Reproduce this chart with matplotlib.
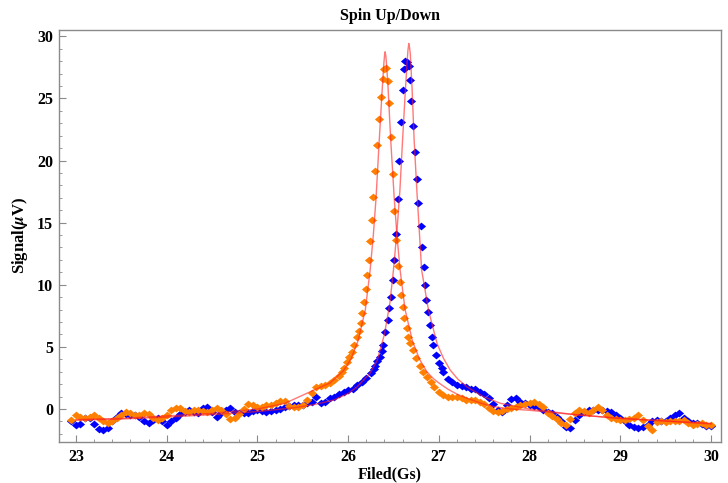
import numpy as np
import matplotlib
matplotlib.use("Agg")
import matplotlib.pyplot as plt
from matplotlib.ticker import MultipleLocator

plt.rcParams["font.family"] = ["Liberation Serif", "DejaVu Serif"]
plt.rcParams["font.weight"] = "bold"
plt.rcParams["mathtext.fontset"] = "stix"

BLUE = "#0000ff"
ORANGE = "#ff8000"
RED = "#ff2020"
FRAME = "#8a8a8a"

STEP = 0.05

# spin down (blue) -- baseline segments sampled every 0.05 Gs, peak read point by point
blue_left_start = 22.95
blue_left_y = [
    -1.0, -1.25, -1.2, -0.75, -0.75, -1.2, -1.6, -1.65, -1.5, -1.0,
    -0.6, -0.35, -0.4, -0.5, -0.5, -0.6, -0.95, -1.15, -0.9, -0.75,
    -0.95, -1.3, -1.0, -0.7, -0.4, -0.25, -0.08, -0.2, -0.35, 0.05,
    0.2, -0.2, -0.65, -0.3, -0.05, 0.05, -0.25, -0.35, -0.35, -0.3,
    -0.15, -0.08, -0.15, -0.22, -0.15, -0.08, 0.0, 0.15, 0.25, 0.3,
    0.3, 0.35, 0.45, 0.6, 0.95, 0.5, 0.6, 0.85, 1.0, 1.2,
    1.35, 1.5, 1.6, 1.9, 2.2, 2.5, 2.9,
]
blue_peak_x = [
    26.28, 26.30, 26.32, 26.35, 26.37, 26.39, 26.41, 26.44, 26.455, 26.47,
    26.49, 26.51, 26.53, 26.555, 26.566, 26.58, 26.60, 26.617, 26.632, 26.647,
    26.669, 26.684, 26.695, 26.72, 26.74, 26.757, 26.775, 26.80, 26.813, 26.836,
    26.845, 26.857, 26.886, 26.90, 26.923, 26.94, 26.97, 27.007, 27.03,
]
blue_peak_y = [
    3.2, 3.5, 3.9, 4.2, 4.7, 5.15, 6.2, 7.15, 8.1, 9.0,
    10.4, 12.0, 14.1, 16.9, 20.0, 23.1, 25.7, 27.35, 28.0, 27.95,
    27.6, 26.5, 24.8, 22.8, 20.65, 18.55, 16.55, 14.7, 13.0, 11.4,
    10.0, 8.8, 7.8, 6.8, 5.8, 5.15, 4.35, 3.7, 3.3,
]
blue_right_start = 27.05
blue_right_y = [
    3.0, 2.45, 2.2, 1.95, 1.85, 1.8, 1.6, 1.6, 1.35, 1.2,
    0.85, 0.4, -0.08, -0.2, 0.3, 0.8, 0.9, 0.6, 0.45, 0.35,
    0.25, 0.15, -0.08, -0.2, -0.35, -0.6, -1.0, -1.45, -1.55, -0.9,
    -0.45, -0.22, -0.1, -0.08, -0.08, -0.1, -0.15, -0.25, -0.45, -0.75,
    -1.0, -1.25, -1.42, -1.55, -1.45, -1.25, -1.0, -0.9, -0.95, -1.0,
    -0.75, -0.5, -0.35, -0.75, -1.0, -1.15, -1.15, -1.2, -1.35, -1.4,
]

# spin up (orange)
orange_left_start = 22.95
orange_left_y = [
    -0.85, -0.5, -0.6, -0.75, -0.6, -0.5, -0.7, -0.95, -1.15, -1.0,
    -0.75, -0.45, -0.22, -0.3, -0.45, -0.45, -0.35, -0.4, -0.7, -0.88,
    -0.75, -0.5, -0.08, 0.05, 0.05, -0.15, -0.2, -0.1, -0.08, -0.15,
    -0.2, -0.05, 0.06, -0.1, -0.4, -0.8, -0.75, -0.4, 0.0, 0.4,
    0.35, 0.2, 0.2, 0.3, 0.3, 0.45, 0.65, 0.65, 0.25, 0.2,
    0.2, 0.3, 0.7, 1.3, 1.75, 1.85, 1.9, 2.1, 2.35, 2.7,
]
orange_peak_x = [
    25.93, 25.95, 25.985, 26.015, 26.044, 26.066, 26.095, 26.125, 26.143, 26.158,
    26.173, 26.195, 26.213, 26.232, 26.246, 26.265, 26.279, 26.298, 26.323, 26.338,
    26.36, 26.382, 26.40, 26.415, 26.437, 26.455, 26.477, 26.49, 26.507, 26.529,
    26.555, 26.573, 26.584, 26.60, 26.617, 26.647, 26.665, 26.684, 26.713, 26.75,
    26.79, 26.83, 26.87, 26.91, 26.95, 27.0,
]
orange_peak_y = [
    3.0, 3.27, 3.8, 4.2, 4.6, 5.15, 5.77, 6.3, 6.94, 7.75,
    8.63, 9.65, 10.78, 12.0, 13.54, 15.2, 17.08, 19.15, 21.24, 23.31,
    25.13, 26.57, 27.35, 27.45, 26.41, 24.59, 21.91, 18.93, 15.95, 13.6,
    11.5, 10.24, 9.17, 8.23, 7.3, 6.49, 5.82, 5.29, 4.75, 4.1,
    3.5, 3.0, 2.6, 2.15, 1.8, 1.35,
]
orange_right_start = 27.05
orange_right_y = [
    1.15, 1.0, 0.99, 0.95, 0.85, 0.75, 0.72, 0.7, 0.55, 0.4,
    0.05, -0.15, -0.2, -0.15, 0.0, 0.05, 0.15, 0.3, 0.4, 0.5,
    0.55, 0.4, 0.15, -0.3, -0.55, -0.8, -1.1, -1.25, -0.8, -0.3,
    -0.1, -0.15, -0.35, -0.1, 0.15, -0.1, -0.45, -0.7, -0.8, -0.88,
    -0.85, -0.8, -0.75, -0.5, -0.85, -1.4, -1.65, -1.05, -1.0, -1.02,
    -1.0, -1.0, -0.95, -0.88, -1.1, -1.3, -1.2, -1.15, -1.25, -1.3,
]

# fitted curves
fit_orange_x = [
    23.0, 23.5, 24.0, 24.5, 25.0, 25.3, 25.6, 25.8, 25.95, 26.03,
    26.11, 26.19, 26.243, 26.278, 26.308, 26.343, 26.378, 26.395, 26.402, 26.408,
    26.414, 26.42, 26.438, 26.47, 26.508, 26.538, 26.573, 26.628, 26.708, 26.788,
    26.868, 26.94, 27.0, 27.1, 27.2, 27.3, 27.45, 27.6, 27.8, 28.0,
    28.5, 29.0, 29.5, 30.0,
]
fit_orange_y = [
    -0.85, -0.75, -0.55, -0.35, 0.0, 0.45, 1.45, 2.1, 3.1, 4.0,
    5.5, 8.0, 11.2, 14.0, 17.0, 21.6, 26.0, 27.9, 28.5, 28.75,
    28.5, 28.1, 26.2, 21.6, 17.0, 14.0, 11.2, 8.0, 5.5, 4.0,
    3.0, 2.45, 2.1, 1.6, 1.2, 0.9, 0.5, 0.2, 0.0, -0.1,
    -0.45, -0.75, -0.95, -1.15,
]
fit_blue_x = [
    23.0, 23.5, 24.0, 24.5, 25.0, 25.4, 25.64, 25.84, 26.0, 26.1,
    26.24, 26.32, 26.4, 26.46, 26.5, 26.54, 26.57, 26.6, 26.63, 26.65,
    26.66, 26.669, 26.677, 26.685, 26.705, 26.728, 26.76, 26.785, 26.81, 26.886,
    26.98, 27.05, 27.125, 27.21, 27.31, 27.49, 27.68, 28.0, 28.5, 29.0,
    29.5, 30.0,
]
fit_blue_y = [
    -0.9, -0.8, -0.65, -0.45, -0.2, 0.1, 0.38, 0.72, 1.25, 1.79,
    2.87, 3.9, 6.0, 8.5, 11.2, 14.5, 17.5, 21.6, 25.5, 27.9,
    28.9, 29.42, 29.1, 28.6, 25.8, 21.6, 17.3, 14.3, 11.2, 7.96,
    5.28, 4.1, 3.14, 2.4, 1.79, 1.0, 0.46, 0.0, -0.45, -0.75,
    -0.97, -1.2,
]


def grid(start, values):
    return np.round(start + STEP * np.arange(len(values)), 3)


blue_x = np.concatenate([grid(blue_left_start, blue_left_y), blue_peak_x,
                         grid(blue_right_start, blue_right_y)])
blue_y = np.concatenate([blue_left_y, blue_peak_y, blue_right_y])
orange_x = np.concatenate([grid(orange_left_start, orange_left_y), orange_peak_x,
                           grid(orange_right_start, orange_right_y)])
orange_y = np.concatenate([orange_left_y, orange_peak_y, orange_right_y])

# slightly wide diamond, like Mathematica's default point marker
DIAMOND = [(-1.0, 0.0), (0.0, 0.85), (1.0, 0.0), (0.0, -0.85), (-1.0, 0.0)]

fig = plt.figure(figsize=(7.28, 4.83), dpi=100)
ax = fig.add_axes([0.0806, 0.0849, 0.9098, 0.854])

ax.plot(blue_x, blue_y, ls="none", marker=DIAMOND, color=BLUE, ms=6.6, mew=0, zorder=3)
ax.plot(orange_x, orange_y, ls="none", marker=DIAMOND, color=ORANGE, ms=6.6, mew=0, zorder=4)
ax.plot(fit_blue_x, fit_blue_y, "-", color=RED, lw=1.0, alpha=0.6, zorder=5)
ax.plot(fit_orange_x, fit_orange_y, "-", color=RED, lw=1.0, alpha=0.6, zorder=5)

ax.set_xlim(22.81, 30.11)
ax.set_ylim(-2.65, 30.54)
ax.xaxis.set_major_locator(MultipleLocator(1))
ax.xaxis.set_minor_locator(MultipleLocator(0.2))
ax.yaxis.set_major_locator(MultipleLocator(5))
ax.yaxis.set_minor_locator(MultipleLocator(1))

for s in ax.spines.values():
    s.set_color(FRAME)
    s.set_linewidth(1.0)
ax.tick_params(which="both", direction="in", color=FRAME, top=False, right=False)
ax.tick_params(which="major", length=5, width=0.8, labelsize=11.5, pad=4)
ax.tick_params(which="minor", length=2.5, width=0.6)
ax.tick_params(axis="x", which="major", pad=5)
for lab in ax.get_xticklabels() + ax.get_yticklabels():
    lab.set_fontweight("bold")

ax.set_title("Spin Up/Down", fontsize=11.5, fontweight="bold", pad=7)
ax.set_xlabel("Filed(Gs)", fontsize=11.5, fontweight="bold", labelpad=0)
ax.set_ylabel(r"Signal($\mu$V)", fontsize=12, fontweight="bold", labelpad=5)
ax.xaxis.set_label_coords(0.5, -0.06)

fig.savefig("out.png", dpi=100)
